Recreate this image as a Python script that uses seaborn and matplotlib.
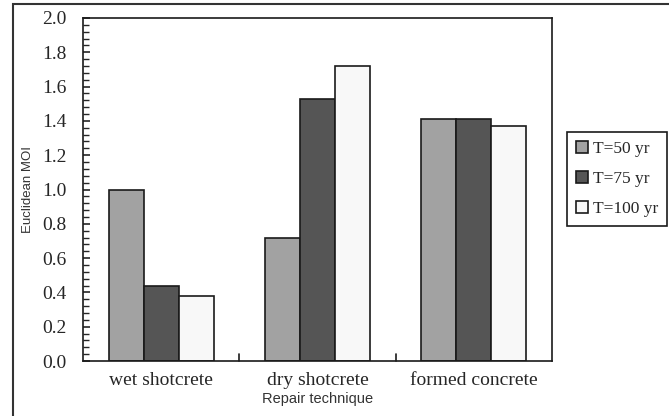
import matplotlib
matplotlib.use("Agg")
import matplotlib.pyplot as plt
import seaborn as sns
import pandas as pd
import numpy as np
from matplotlib.patches import Rectangle
from matplotlib.ticker import MultipleLocator

categories = ["wet shotcrete", "dry shotcrete", "formed concrete"]
series_names = ["T=50 yr", "T=75 yr", "T=100 yr"]
t50 = [1.00, 0.72, 1.41]
t75 = [0.44, 1.53, 1.41]
t100 = [0.38, 1.72, 1.37]
colors = ["#a2a2a2", "#555555", "#f8f8f8"]
yticks = [0.0, 0.2, 0.4, 0.6, 0.8, 1.0, 1.2, 1.4, 1.6, 1.8, 2.0]

rows = []
for name, vals in zip(series_names, [t50, t75, t100]):
    for c, v in zip(categories, vals):
        rows.append({"cat": c, "series": name, "val": v})
df = pd.DataFrame(rows)

sns.set_style("white")
fig = plt.figure(figsize=(6.69, 4.16), dpi=100)
ax = fig.add_axes([83/669, 1-361/416, (552-83)/669, (361-18)/416])

sns.barplot(data=df, x="cat", y="val", hue="series", order=categories,
            hue_order=series_names, palette=colors, width=0.67, gap=0,
            edgecolor="#1a1a1a", linewidth=1.2, ax=ax, legend=True)

ax.set_ylim(0, 2.0)
ax.set_xlim(-0.5, 2.5)
ax.set_yticks(yticks)
ax.set_yticklabels([f"{v:.1f}" for v in yticks],
                   family="Liberation Serif", fontsize=14)
ax.yaxis.set_minor_locator(MultipleLocator(0.04))
ax.tick_params(axis="y", which="major", direction="in", length=5, width=1.2, left=True, pad=12)
ax.tick_params(axis="y", which="minor", direction="in", length=4, width=1.0, left=True)
ax.set_xticks(range(3))
ax.set_xticklabels(categories, family="Liberation Serif", fontsize=14)
ax.tick_params(axis="x", which="major", length=0, pad=8)
for b in [0.5, 1.5]:
    ax.plot([b, b], [0, 0.04], color="#1a1a1a", lw=1.2, clip_on=False)

for s in ax.spines.values():
    s.set_visible(True)
    s.set_color("#1a1a1a")
    s.set_linewidth(1.2)

ax.set_ylabel("Euclidean MOI", family="Liberation Sans", fontsize=9.5, color="#333333", labelpad=6)
ax.set_xlabel("Repair technique", family="Liberation Sans", fontsize=10.5, color="#333333", labelpad=2)

leg = ax.legend(loc="upper left", bbox_to_anchor=(567/669, 1-132/416),
                bbox_transform=fig.transFigure, prop={"family": "Liberation Serif", "size": 12.5},
                frameon=True, fancybox=False, edgecolor="#1a1a1a", framealpha=1,
                handlelength=0.7, handleheight=0.7, handletextpad=0.3,
                labelspacing=0.8, borderpad=0.5, borderaxespad=0)
leg.get_frame().set_linewidth(1.2)

fig.patches.append(Rectangle((13/669, -0.01), 1.1, 1-4/416+0.01, transform=fig.transFigure,
                             fill=False, edgecolor="#333333", linewidth=1.5))

fig.savefig("out.png", dpi=100)
